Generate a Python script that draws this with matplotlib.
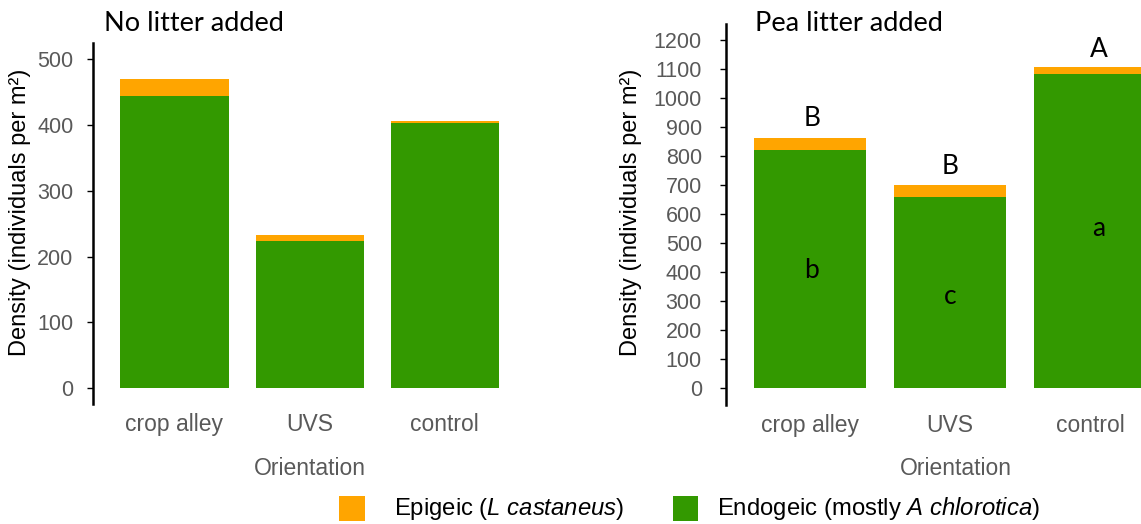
import matplotlib
matplotlib.use("Agg")
import matplotlib.pyplot as plt
from matplotlib.patches import Rectangle

# ---- data -------------------------------------------------------------
orientations = ["crop alley", "UVS", "control"]

# No litter added
endogeic_no_litter = [444, 224, 403]
epigeic_no_litter = [26, 9, 3]

# Pea litter added
endogeic_pea = [822, 660, 1083]
epigeic_pea = [42, 42, 25]

# significance letters (pea litter panel)
total_letters = ["B", "B", "A"]
total_letter_y = [905, 738, 1140]
endo_letters = ["b", "c", "a"]
endo_letter_y = [381, 291, 525]
letter_dx = [0.015, 0.0, 0.06]

yticks_no_litter = list(range(0, 501, 100))
yticks_pea = list(range(0, 1201, 100))

# ---- style ------------------------------------------------------------
GREEN = "#339900"
ORANGE = "#FFA500"
TICK_GREY = "#595959"
SANS = "Liberation Sans"
TITLE_FONT = "Lato"

plt.rcParams["font.family"] = [SANS, "DejaVu Sans"]
plt.rcParams["mathtext.fontset"] = "custom"
plt.rcParams["mathtext.rm"] = SANS
plt.rcParams["mathtext.it"] = SANS + ":italic"

W, H = 1141, 524
fig = plt.figure(figsize=(W / 100, H / 100), dpi=100)


def fx(px):
    return px / W


def fy(py):
    return 1 - py / H


def style_axes(ax, yticks, ylim, ypad):
    x = range(len(orientations))
    ax.set_xlim(-0.6, 2.6)
    ax.set_ylim(*ylim)
    for s in ("top", "right", "bottom"):
        ax.spines[s].set_visible(False)
    ax.spines["left"].set_linewidth(1.8)
    ax.spines["left"].set_color("black")
    ax.set_yticks(yticks)
    ax.tick_params(axis="y", length=4.5, width=1, color="black",
                   labelcolor=TICK_GREY, labelsize=15.5, pad=ypad)
    ax.set_xticks(list(x))
    ax.set_xticklabels(orientations)
    ax.tick_params(axis="x", length=0, labelcolor=TICK_GREY,
                   labelsize=16.5, pad=6.3)
    ax.patch.set_alpha(0)


def draw_bars(ax, endo, epi):
    x = list(range(len(orientations)))
    ax.bar(x, endo, width=0.8, color=GREEN, linewidth=0)
    ax.bar(x, epi, width=0.8, bottom=endo, color=ORANGE, linewidth=0)


# ---- left panel: no litter --------------------------------------------
axL = fig.add_axes([fx(93.3), fy(404.3), fx(526) - fx(93.3), fy(43) - fy(404.3)])
draw_bars(axL, endogeic_no_litter, epigeic_no_litter)
style_axes(axL, yticks_no_litter, (-24.3, 524.3), 9.9)

# ---- right panel: pea litter ------------------------------------------
axR = fig.add_axes([fx(725.7), fy(405), fx(1174.3) - fx(725.7), fy(24) - fy(405)])
draw_bars(axR, endogeic_pea, epigeic_pea)
style_axes(axR, yticks_pea, (-57.5, 1255.2), 12.7)

for i in range(len(orientations)):
    axR.text(i + letter_dx[i], total_letter_y[i], total_letters[i],
             ha="center", va="baseline", fontsize=19, family=TITLE_FONT)
    axR.text(i + letter_dx[i], endo_letter_y[i], endo_letters[i],
             ha="center", va="baseline", fontsize=19, family=TITLE_FONT)

# ---- titles and axis labels -------------------------------------------
fig.text(fx(104), fy(31), "No litter added", ha="left", va="baseline",
         fontsize=19.5, family=TITLE_FONT)
fig.text(fx(755), fy(31), "Pea litter added", ha="left", va="baseline",
         fontsize=19.5, family=TITLE_FONT)

ylab = "Density (individuals per m²)"
fig.text(fx(20.5), fy(212.5), ylab, rotation=90, ha="center", va="center",
         fontsize=17)
fig.text(fx(631.5), fy(212.5), ylab, rotation=90, ha="center", va="center",
         fontsize=17)

fig.text(fx(309.7), fy(475), "Orientation", ha="center", va="baseline",
         fontsize=16.5, color=TICK_GREY)
fig.text(fx(956), fy(475), "Orientation", ha="center", va="baseline",
         fontsize=16.5, color=TICK_GREY)

# ---- legend -----------------------------------------------------------
sq_w, sq_h = 25.7, 24.7
for left, colour in ((339.3, ORANGE), (672.7, GREEN)):
    fig.add_artist(Rectangle((fx(left), fy(496 + sq_h)), sq_w / W, sq_h / H,
                             transform=fig.transFigure, color=colour,
                             linewidth=0))
fig.text(fx(394), fy(509), r"Epigeic ($\mathit{L\ castaneus}$)",
         ha="left", va="center", fontsize=17.2)
fig.text(fx(717.3), fy(509), r"Endogeic (mostly $\mathit{A\ chlorotica}$)",
         ha="left", va="center", fontsize=17.2)

fig.savefig("out.png", dpi=100)
